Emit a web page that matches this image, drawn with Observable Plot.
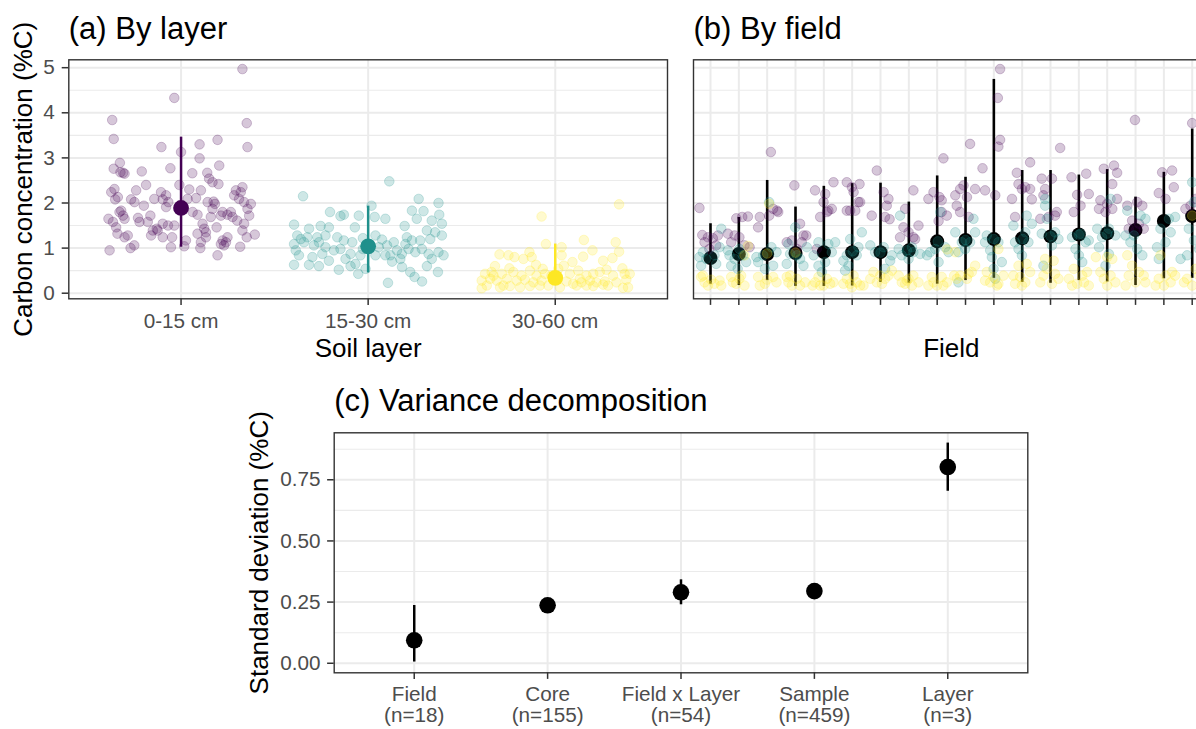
<!DOCTYPE html>
<html><head><meta charset="utf-8">
<script src="https://cdn.jsdelivr.net/npm/d3@7"></script>
<script src="https://cdn.jsdelivr.net/npm/@observablehq/plot@0.6"></script>
<style>
html,body{margin:0;padding:0;background:#fff;overflow:hidden;width:1196px;height:729px;}
#wrap{position:relative;width:1196px;height:729px;overflow:hidden;background:#fff;}
.panel{position:absolute;}
.panel svg{display:block;overflow:visible;max-width:none !important;}
</style></head><body><div id="wrap"></div>
<script>
// ---------- data ----------
const layers = ["0-15 cm", "15-30 cm", "30-60 cm"];
const layerColors = ["#440154", "#21908C", "#FDE725"];
const layerMean = [1.89, 1.04, 0.34];
const layerLow = [1.02, 0.45, 0.20];
const layerHigh = [3.46, 1.93, 1.09];

// jittered samples per layer: [jitter (category units), %C]
const jitterTop = [[0.328,4.97],[-0.036,4.33],[-0.368,3.84],[0.351,3.77],[-0.36,3.42],[0.355,3.24],[-0.105,3.24],[0.099,3.30],[0.195,3.40],[0.0,3.13],[0.099,2.99],[0.204,2.83],[-0.057,2.77],[-0.327,2.89],[-0.36,2.76],[-0.31,2.67],[-0.21,2.70],[0.06,2.66],[0.14,2.67],[0.15,2.54],[0.20,2.42],[0.168,2.46],[-0.009,2.40],[-0.187,2.40],[0.328,2.35],[0.293,2.28],[-0.356,2.31],[-0.24,2.28],[-0.107,2.24],[0.044,2.30],[0.106,2.28],[0.08,2.11],[-0.267,2.08],[-0.352,2.08],[-0.199,1.94],[-0.098,2.08],[-0.08,1.91],[-0.143,2.09],[0.174,2.03],[0.168,1.87],[0.31,2.09],[0.337,2.02],[0.373,1.98],[0.355,1.87],[-0.32,1.83],[-0.302,1.65],[-0.388,1.65],[-0.23,1.67],[-0.164,1.72],[-0.098,1.54],[-0.07,1.50],[-0.036,1.50],[0.088,1.74],[0.115,1.54],[0.159,1.69],[0.213,1.72],[0.248,1.74],[0.275,1.69],[0.30,1.61],[0.364,1.72],[-0.347,1.46],[-0.34,1.32],[-0.285,1.28],[-0.16,1.28],[-0.13,1.43],[-0.098,1.24],[-0.048,1.24],[0.026,1.17],[0.088,1.32],[0.133,1.24],[0.124,1.43],[0.19,1.46],[0.248,1.24],[0.328,1.39],[0.351,1.24],[0.394,1.30],[-0.382,0.95],[-0.27,1.0],[-0.25,1.06],[-0.054,1.02],[0.017,1.04],[0.103,1.0],[0.213,1.09],[0.23,1.06],[0.316,1.03],[0.195,0.84],[-0.373,2.24],[-0.338,2.13],[-0.329,1.80],[-0.31,1.72],[-0.249,2.02],[-0.222,1.58],[-0.178,1.58],[-0.125,1.39],[-0.08,2.17],[-0.068,2.02],[0.035,2.09],[0.062,1.80],[0.142,2.02],[0.181,1.98],[0.222,1.80],[0.266,1.80],[0.284,2.17],[0.319,2.24],[0.337,1.54],[0.106,1.13],[0.133,1.35],[0.222,1.17],[0.24,1.13],[-0.151,1.39],[-0.302,1.24],[-0.364,1.58],[-0.324,2.68],[-0.302,2.65]];
const jitterMid = [[0.113,2.48],[-0.348,2.15],[0.27,2.09],[0.376,2.0],[0.018,1.94],[-0.204,1.80],[-0.13,1.74],[-0.148,1.71],[-0.05,1.72],[0.035,1.69],[0.092,1.65],[0.234,1.83],[0.296,1.82],[0.26,1.65],[0.38,1.74],[0.34,1.61],[-0.396,1.52],[-0.316,1.43],[-0.254,1.49],[-0.21,1.46],[-0.071,1.46],[0.195,1.49],[0.394,1.54],[0.314,1.39],[0.358,1.35],[-0.379,1.28],[-0.36,1.20],[-0.325,1.24],[-0.272,1.24],[-0.228,1.28],[-0.165,1.24],[-0.13,1.17],[-0.085,1.13],[-0.028,1.22],[0.039,1.28],[0.074,1.19],[0.137,1.13],[0.199,1.09],[0.234,1.17],[0.278,1.17],[0.332,1.20],[0.394,1.28],[-0.396,1.09],[-0.387,0.95],[-0.37,0.84],[-0.245,0.87],[-0.228,1.02],[-0.183,0.95],[-0.148,0.98],[-0.094,0.87],[-0.041,0.84],[-0.028,0.98],[0.057,1.02],[0.119,0.84],[0.154,0.95],[0.18,0.87],[0.216,0.98],[0.252,0.91],[0.287,0.98],[0.323,0.87],[0.376,0.91],[0.403,0.84],[-0.396,0.63],[-0.316,0.63],[-0.263,0.60],[-0.21,0.72],[-0.157,0.52],[-0.094,0.60],[-0.053,0.43],[-0.014,0.54],[0.128,0.70],[0.181,0.58],[0.225,0.47],[0.248,0.36],[0.314,0.60],[0.373,0.47],[0.288,0.26],[0.106,0.23],[-0.343,1.13],[-0.29,1.06],[-0.263,1.13],[0.003,1.09],[0.101,1.06],[0.172,0.76],[0.34,0.76],[-0.121,0.76],[-0.068,0.65],[0.039,0.84],[-0.298,0.80],[0.092,0.84],[0.207,1.24]];
const jitterDeep = [[0.341,1.97],[-0.073,1.70],[0.153,1.18],[-0.05,1.09],[0.034,1.02],[0.323,1.13],[0.341,0.92],[0.199,0.95],[-0.298,0.86],[-0.25,0.84],[-0.138,0.91],[-0.126,0.80],[-0.218,0.80],[-0.17,0.76],[0.149,0.81],[0.256,0.72],[0.306,0.78],[0.092,0.69],[0.046,0.61],[-0.103,0.63],[-0.322,0.60],[-0.245,0.55],[-0.067,0.54],[0.359,0.55],[0.274,0.52],[-0.375,0.43],[-0.34,0.47],[-0.286,0.43],[-0.224,0.47],[-0.18,0.39],[-0.135,0.50],[-0.1,0.39],[-0.055,0.43],[0.078,0.43],[0.123,0.50],[0.167,0.39],[0.203,0.43],[0.238,0.47],[0.309,0.39],[0.371,0.43],[0.398,0.43],[-0.393,0.28],[-0.348,0.32],[-0.313,0.28],[-0.259,0.32],[-0.206,0.28],[-0.162,0.30],[-0.117,0.24],[-0.073,0.28],[0.06,0.26],[0.096,0.21],[0.14,0.24],[0.185,0.28],[0.22,0.24],[0.265,0.26],[0.327,0.24],[0.38,0.30],[-0.393,0.11],[-0.295,0.13],[-0.242,0.16],[-0.188,0.13],[-0.135,0.16],[-0.037,0.17],[0.025,0.13],[0.114,0.17],[0.203,0.16],[0.256,0.19],[0.362,0.12],[0.389,0.13],[0.034,0.84],[0.016,0.54],[-0.366,0.17],[-0.33,0.39],[-0.02,0.39],[0.282,0.17],[-0.277,0.17],[0.131,0.32],[0.167,0.17],[-0.082,0.17]];

// field summaries (18 fields)
const fieldMean = [0.78,0.87,0.87,0.89,0.91,0.91,0.91,0.95,1.15,1.18,1.20,1.22,1.26,1.30,1.33,1.40,1.60,1.71];
const fieldLow = [0.20,0.17,0.28,0.15,0.15,0.16,0.24,0.22,0.20,0.28,0.33,0.24,0.22,0.28,0.25,0.17,0.32,0.33];
const fieldHigh = [1.54,1.68,2.50,1.91,2.37,2.43,2.44,2.02,2.60,2.57,4.74,2.72,2.72,2.62,2.74,2.13,2.68,3.64];

// samples per field: [jitter, %C]
const fieldTop = [
 [[-0.39,1.89],[-0.29,1.29],[-0.09,1.24],[-0.21,1.13],[0.08,1.22],[0.26,1.28],[-0.04,0.98],[0.2,1.06]],
 [[-0.09,1.66],[0.12,1.69],[0.32,1.70],[-0.15,1.28],[-0.27,1.13],[0.2,1.06],[0.02,1.24],[0.38,1.02],[-0.39,1.32]],
 [[0.13,3.13],[0.35,1.83],[0.07,1.72],[-0.26,1.69],[-0.32,1.46],[0.21,1.87],[0.39,1.80]],
 [[-0.04,2.39],[0.28,1.28],[0.16,1.54],[0.38,1.28],[-0.31,1.13],[0.05,0.98],[0.22,1.13],[-0.13,1.17]],
 [[-0.31,2.28],[-0.01,2.02],[0.34,2.46],[0.05,2.20],[0.16,1.83],[-0.13,1.69],[0.28,1.87],[-0.25,0.98],[0.11,1.80]],
 [[-0.19,2.46],[-0.01,2.35],[0.26,2.42],[0.05,2.24],[0.22,2.02],[-0.19,1.83],[-0.07,1.83],[0.11,1.83],[0.28,2.02]],
 [[-0.13,2.72],[0.28,2.09],[0.22,1.94],[-0.31,1.72],[0.16,1.69],[0.32,1.64],[0.11,2.24]],
 [[0.16,2.28],[-0.13,1.87],[0.34,1.50],[-0.19,1.46],[-0.01,1.35],[-0.31,1.24],[0.16,1.24],[0.22,1.20]],
 [[0.22,2.99],[-0.13,2.24],[0.08,2.13],[0.16,2.06],[-0.31,2.09],[0.16,1.80],[0.34,1.72],[0.05,1.60]],
 [[0.16,3.31],[-0.19,2.31],[-0.07,2.39],[0.05,2.13],[-0.31,1.94],[0.34,2.31],[-0.19,1.80],[0.11,1.69],[-0.36,2.17]],
 [[0.22,4.97],[0.14,4.33],[0.22,3.40],[0.16,3.25],[-0.4,2.77],[-0.31,2.28],[0.05,2.17]],
 [[0.28,2.90],[-0.19,2.67],[-0.13,2.42],[0.11,2.35],[0.28,2.31],[-0.36,2.09],[0.34,2.08],[-0.25,1.69],[-0.01,2.31]],
 [[0.34,3.22],[-0.31,2.54],[-0.19,2.31],[0.05,2.54],[-0.25,2.17],[-0.36,1.65],[0.22,1.80],[-0.07,1.69],[0.16,1.72]],
 [[-0.26,2.57],[0.26,2.65],[-0.06,2.18],[0.35,2.20],[0.06,1.94],[-0.18,1.80]],
 [[-0.12,2.76],[0.24,2.83],[0.35,2.67],[0.18,2.42],[-0.24,2.06],[0,1.98],[0.18,1.87],[0.35,2.09],[-0.29,1.87],[-0.06,1.80]],
 [[-0.02,3.84],[-0.29,1.94],[0.06,2.02],[0.24,1.94],[-0.12,1.61],[0.12,1.54],[-0.24,1.43],[0,1.39],[0.29,1.43]],
 [[-0.18,2.22],[0.06,2.09],[0.35,2.35],[-0.06,2.68],[0.29,2.72]],
 [[0,3.77],[-0.06,1.94],[0.12,2.09],[0.29,1.80],[-0.24,1.87],[0.36,3.43]]
];
const fieldMid = [
 [[-0.39,0.80],[-0.33,0.61],[-0.15,0.76],[0.14,0.84],[0.38,1.43],[0.32,1.02],[-0.27,0.91],[0.2,0.65]],
 [[-0.33,0.84],[0.02,0.98],[-0.15,0.76],[0.14,0.84],[-0.27,0.61],[0.26,0.69],[-0.39,0.95],[-0.04,0.54]],
 [[0.07,2.02],[-0.32,0.69],[0.21,0.61],[-0.14,0.84],[-0.38,0.80],[0.33,0.91],[-0.08,0.54],[0.15,1.02]],
 [[-0.01,1.46],[-0.25,1.09],[-0.19,0.87],[-0.31,0.65],[0.16,0.76],[0.4,1.02],[0.05,0.84],[0.28,0.61]],
 [[-0.19,1.13],[0.16,1.09],[-0.19,0.61],[0.28,0.91],[-0.36,0.84],[0.05,0.69],[0.4,1.13],[-0.07,0.47]],
 [[-0.07,1.20],[0.34,1.35],[-0.19,0.84],[0.16,0.84],[-0.31,0.72],[-0.13,0.61],[-0.25,0.50],[0.22,1.02],[0.02,0.93]],
 [[-0.36,1.06],[0.11,1.02],[0,0.90],[0.4,0.84],[0.34,0.72],[-0.19,0.91],[0.16,0.54]],
 [[-0.31,1.72],[-0.36,0.98],[-0.07,0.95],[0.16,0.91],[-0.25,0.84],[0.11,1.02],[0.4,0.87],[-0.01,0.76]],
 [[0.11,1.80],[-0.25,0.91],[-0.07,0.98],[0.28,1.02],[-0.36,0.84],[0.4,0.91],[0.05,0.69],[0.02,1.15]],
 [[0.28,1.65],[-0.36,1.35],[0.34,1.35],[-0.13,1.13],[-0.25,0.91],[0.16,1.13],[-0.01,0.98],[-0.25,0.24],[0,1.18]],
 [[-0.31,1.13],[-0.07,0.80],[0.28,0.69],[0.05,0.32],[-0.25,1.28],[0.16,1.13],[-0.13,0.95],[-0.01,0.54],[0,1.2]],
 [[-0.31,1.50],[0.16,1.72],[0.34,1.54],[-0.25,1.13],[0.22,1.13],[-0.13,0.98],[0.11,1.35],[-0.01,0.84],[0.02,1.2]],
 [[-0.19,2.09],[-0.19,1.94],[-0.13,1.65],[-0.31,1.32],[0.16,1.35],[0.05,1.06],[-0.25,0.61],[0.28,1.20],[0,1.26]],
 [[0,0.84],[0.24,1.13],[-0.24,1.24],[0.06,1.32],[0.35,1.17],[-0.12,0.98],[0.12,0.69],[0,1.30]],
 [[0.12,2.09],[-0.35,1.43],[0.06,1.43],[-0.18,1.24],[0.29,1.28],[-0.29,1.02],[0.06,0.87],[-0.06,0.61],[0,1.32]],
 [[-0.29,1.83],[0.18,1.72],[0.35,1.65],[-0.35,1.28],[-0.06,1.28],[0.24,0.84],[-0.18,1.13],[0.06,0.98]],
 [[-0.18,0.76],[0.18,1.65],[0.4,1.69],[-0.12,1.43],[0.24,1.35],[0.06,1.13],[-0.24,1.02]],
 [[0,2.46],[0.06,2.02],[-0.41,0.76],[0.06,1.17],[-0.12,1.43],[0.24,0.98],[-0.18,0.84]]
];
const fieldDeep = [
 [[-0.33,0.36],[-0.21,0.24],[0.02,0.30],[0.32,0.28],[-0.09,0.17],[0.38,0.17],[-0.27,0.39],[0.14,0.21]],
 [[-0.27,0.36],[0.02,0.32],[0.2,0.17],[-0.09,0.21],[0.32,1.05],[0.2,0.84],[-0.21,0.24],[0.08,0.39]],
 [[0.07,1.98],[-0.32,0.36],[-0.08,0.21],[0.21,0.36],[0,0.88],[0.33,0.24],[-0.26,0.17],[0,0.30]],
 [[0,0.90],[-0.31,0.36],[-0.13,0.17],[0.05,0.32],[0.16,0.17],[-0.25,0.24],[0.34,0.24],[-0.19,0.39]],
 [[-0.31,0.24],[-0.01,0.17],[0.22,0.21],[-0.4,0.17],[-0.19,0.36],[0.34,0.24],[0.11,0.32],[-0.13,0.17]],
 [[-0.19,0.32],[0.05,0.39],[0.28,0.17],[-0.07,0.21],[0.16,0.24],[-0.31,0.21],[0.4,0.17],[-0.01,0.13]],
 [[-0.25,0.47],[-0.01,0.39],[0.4,0.50],[0.16,0.32],[-0.13,0.24],[0.28,0.39],[0.05,0.21],[-0.36,0.32]],
 [[-0.25,0.24],[-0.13,0.21],[0.16,0.39],[0.34,0.24],[-0.01,0.32],[-0.36,0.39],[0.11,0.17],[-0.07,0.28]],
 [[-0.31,0.17],[-0.13,0.24],[0.16,0.36],[0.34,0.24],[-0.01,0.17],[-0.19,0.36],[0.22,0.17],[0.35,0.97]],
 [[-0.36,0.91],[-0.19,0.39],[0.11,0.43],[0.34,0.61],[0.05,0.32],[0.22,0.47],[-0.31,0.32],[-0.4,0.39]],
 [[0.16,0.98],[-0.01,0.36],[-0.13,0.24],[0.16,0.21],[-0.31,0.28],[0.34,0.39],[0.11,0.17],[-0.25,0.47]],
 [[-0.13,0.61],[0.16,0.65],[-0.31,0.39],[-0.07,0.36],[0.28,0.47],[0.11,0.24],[-0.25,0.21],[-0.01,0.17]],
 [[-0.19,0.76],[0.11,0.72],[-0.13,0.54],[-0.25,0.39],[0.16,0.43],[0.05,0.21],[0.28,0.32],[-0.36,0.24]],
 [[-0.18,0.54],[0.12,0.39],[0.29,0.47],[-0.35,0.32],[-0.06,0.21],[0.18,0.24],[-0.24,0.17],[0.35,0.17]],
 [[-0.4,0.80],[0,0.80],[0.18,0.76],[-0.24,0.47],[-0.12,0.32],[0.12,0.39],[0.29,0.24],[0,0.17]],
 [[-0.29,0.84],[-0.12,0.61],[0.12,0.47],[-0.24,0.39],[0.29,0.39],[0,0.24],[-0.35,0.17],[0.35,0.24]],
 [[-0.12,0.84],[0.06,0.39],[0.24,0.24],[-0.18,0.32],[0.4,0.39],[-0.29,0.17],[0,0.17],[0.29,0.47]],
 [[0,1.72],[-0.18,0.32],[0,0.17],[0.24,0.39],[-0.29,0.24],[0.12,0.54]]
];

// variance decomposition
const components = ["Field", "Core", "Field x Layer", "Sample", "Layer"];
const componentN = [18, 155, 54, 459, 3];
const componentSD = [0.094, 0.237, 0.29, 0.295, 0.802];
const componentLow = [0.005, 0.215, 0.239, 0.28, 0.703];
const componentHigh = [0.236, 0.26, 0.341, 0.31, 0.90];

// tick values
const ticksConc = [0, 1, 2, 3, 4, 5];
const minorConc = [0.5, 1.5, 2.5, 3.5, 4.5];
const ticksSD = [0, 0.25, 0.5, 0.75];
const minorSD = [0.125, 0.375, 0.625, 0.875];

// ---------- styling ----------
const FONT = '"Liberation Sans", Arial, Helvetica, sans-serif';
const GRID = "#EBEBEB", INK = "#333333", TICKTXT = "#4D4D4D";
const TICK = 20.7, AXT = 26, TTL = 31;
const PR = 4.8, PA = 0.22;

function place(svg, left, top, w, h) {
  const d = document.createElement("div");
  d.className = "panel";
  d.style.left = left + "px"; d.style.top = top + "px";
  d.style.width = w + "px"; d.style.height = h + "px";
  svg.style.maxWidth = "none"; svg.style.width = w + "px"; svg.style.height = h + "px";
  d.appendChild(svg); document.getElementById("wrap").appendChild(d);
}
const baseStyle = {fontFamily: FONT, background: "transparent", overflow: "visible"};
const title = (t, dy) => Plot.text([t], {text: d => d, frameAnchor: "top-left", dy, textAnchor: "start", lineAnchor: "bottom", fontSize: TTL, fill: "#000"});
const xTitle = (t, dy) => Plot.text([t], {text: d => d, frameAnchor: "bottom", dy, textAnchor: "middle", lineAnchor: "bottom", fontSize: AXT, fill: "#000"});
const yTitle = (t, dx) => Plot.text([t], {text: d => d, frameAnchor: "left", dx, rotate: -90, textAnchor: "middle", lineAnchor: "bottom", fontSize: AXT, fill: "#000"});

// ---------- panel (a) ----------
const layerSummary = layers.map((l, i) => ({i, mean: layerMean[i], lo: layerLow[i], hi: layerHigh[i], c: layerColors[i]}));
const aPts = [];
[jitterTop, jitterMid, jitterDeep].forEach((arr, L) => arr.forEach(([j, v]) => aPts.push({x: L + j, v, c: layerColors[L]})));

const panelA = Plot.plot({
  width: 680, height: 370,
  marginLeft: 68.3, marginRight: 13, marginTop: 59.3, marginBottom: 71.7,
  x: {domain: [-0.6, 2.6]},
  y: {domain: [-0.124, 5.175]},
  color: {type: "identity"},
  style: baseStyle,
  marks: [
    Plot.ruleY(minorConc, {stroke: GRID, strokeWidth: 1.1}),
    Plot.ruleY(ticksConc, {stroke: GRID, strokeWidth: 2}),
    Plot.ruleX([0, 1, 2], {stroke: GRID, strokeWidth: 2}),
    Plot.ruleX(layerSummary, {x: "i", y1: "lo", y2: "hi", stroke: d => d.c, strokeWidth: 2.5}),
    Plot.dot(layerSummary, {x: "i", y: "mean", r: 7.9, fill: d => d.c}),
    Plot.dot(aPts, {x: "x", y: "v", r: PR, fill: d => d.c, fillOpacity: PA, stroke: d => d.c, strokeOpacity: PA, strokeWidth: 1}),
    Plot.frame({stroke: INK, strokeWidth: 1.4}),
    Plot.axisY({ticks: ticksConc, tickFormat: d => String(d), tickSize: 6.6, tickPadding: 7.5, fontSize: TICK, fill: TICKTXT, stroke: INK, strokeWidth: 1.5, label: null}),
    Plot.axisX({ticks: [0, 1, 2], tickFormat: i => layers[i], tickSize: 6.6, tickPadding: 7.5, fontSize: TICK, fill: TICKTXT, stroke: INK, strokeWidth: 1.5, label: null}),
    title("(a) By layer", 38.5 - 59.3),
    xTitle("Soil layer", 356.5 - 298.3),
    yTitle("Carbon concentration (%C)", 31.5 - 68.3)
  ]
});
place(panelA, 0, 0, 680, 370);

// ---------- panel (b) ----------
const fieldIdx = fieldMean.map((_, i) => i + 1);
const fieldSummary = fieldMean.map((m, i) => ({f: i + 1, mean: m, lo: fieldLow[i], hi: fieldHigh[i]}));
const bPts = [];
fieldTop.forEach((_, f) => {
  [fieldTop, fieldMid, fieldDeep].forEach((arr, L) => arr[f].forEach(([j, v]) => bPts.push({x: f + 1 + j, v, c: layerColors[L]})));
});

const panelB = Plot.plot({
  width: 540, height: 370,
  marginLeft: 13, marginRight: 11.3, marginTop: 59.3, marginBottom: 71.7,
  x: {domain: [0.4, 18.6]},
  y: {domain: [-0.124, 5.175], axis: null},
  color: {type: "identity"},
  style: baseStyle,
  marks: [
    Plot.ruleY(minorConc, {stroke: GRID, strokeWidth: 1.1}),
    Plot.ruleY(ticksConc, {stroke: GRID, strokeWidth: 2}),
    Plot.ruleX(fieldIdx, {stroke: GRID, strokeWidth: 2}),
    Plot.ruleX(fieldSummary, {x: "f", y1: "lo", y2: "hi", stroke: "#000", strokeWidth: 2.6}),
    Plot.dot(fieldSummary, {x: "f", y: "mean", r: 7, fill: "#000"}),
    Plot.dot(bPts, {x: "x", y: "v", r: PR, fill: d => d.c, fillOpacity: PA, stroke: d => d.c, strokeOpacity: PA, strokeWidth: 1}),
    Plot.frame({stroke: INK, strokeWidth: 1.4}),
    Plot.axisX({ticks: fieldIdx, tickFormat: () => "", tickSize: 6.6, tickPadding: 7.5, fontSize: TICK, stroke: INK, strokeWidth: 1.5, label: null}),
    title("(b) By field", 38.5 - 59.3),
    xTitle("Field", 356.5 - 298.3)
  ]
});
place(panelB, 680, 0, 540, 370);

// ---------- panel (c) ----------
const compIdx = components.map((_, i) => i);
const compData = components.map((c, i) => ({i, sd: componentSD[i], lo: componentLow[i], hi: componentHigh[i]}));

const panelC = Plot.plot({
  width: 1040, height: 359,
  marginLeft: 333.7, marginRight: 12.7, marginTop: 62.3, marginBottom: 56.7,
  x: {domain: [-0.6, 4.6]},
  y: {domain: [-0.039, 0.942]},
  style: baseStyle,
  marks: [
    Plot.ruleY(minorSD, {stroke: GRID, strokeWidth: 1.1}),
    Plot.ruleY(ticksSD, {stroke: GRID, strokeWidth: 2}),
    Plot.ruleX(compIdx, {stroke: GRID, strokeWidth: 2}),
    Plot.ruleX(compData, {x: "i", y1: "lo", y2: "hi", stroke: "#000", strokeWidth: 2.5}),
    Plot.dot(compData, {x: "i", y: "sd", r: 8.3, fill: "#000"}),
    Plot.frame({stroke: INK, strokeWidth: 1.4}),
    Plot.axisY({ticks: ticksSD, tickFormat: d3.format(".2f"), tickSize: 6.6, tickPadding: 7, fontSize: TICK, fill: TICKTXT, stroke: INK, strokeWidth: 1.5, label: null}),
    Plot.axisX({ticks: compIdx, tickFormat: i => `${components[i]}\n(n=${componentN[i]})`, tickSize: 6.6, tickPadding: 7, fontSize: TICK, lineHeight: 1.02, fill: TICKTXT, stroke: INK, strokeWidth: 1.5, label: null}),
    title("(c) Variance decomposition", 410.2 - 432.3),
    yTitle("Standard deviation (%C)", 267.8 - 333.7)
  ]
});
place(panelC, 0, 370, 1040, 359);
</script></body></html>
